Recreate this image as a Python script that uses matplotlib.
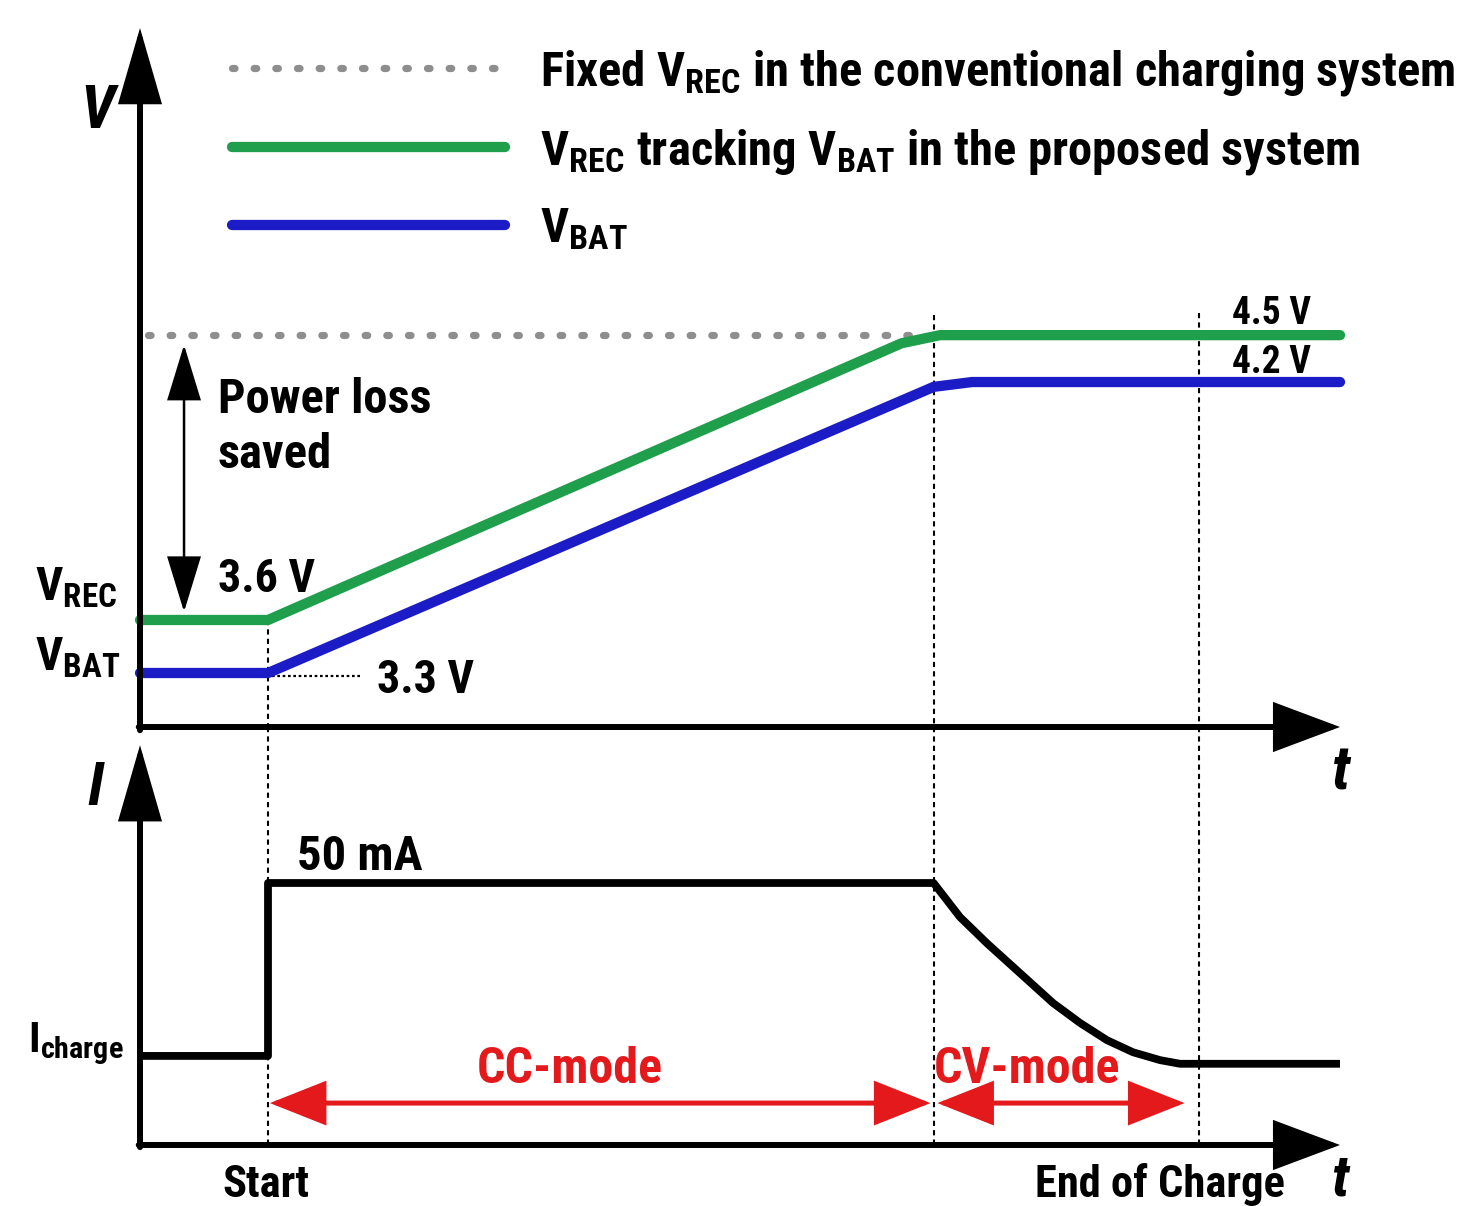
import matplotlib
matplotlib.use("Agg")
import matplotlib.pyplot as plt
from matplotlib import font_manager as fm

# ---------------- data (schematic levels) ----------------
t_start, t_cv, t_end, t_max = 1.0, 6.2, 8.27, 9.375

green_t = [0.0, 1.0, 5.95, 6.25, 9.375]            # V_REC tracking V_BAT
green_v = [3.464, 3.464, 4.32, 4.345, 4.345]
blue_t = [0.0, 1.0, 6.2, 6.5, 9.375]               # V_BAT
blue_v = [3.30, 3.30, 4.185, 4.20, 4.20]
fixed_t = [0.06, 6.12]                             # fixed V_REC (conventional)
fixed_v = [4.345, 4.345]

cur_t = [0.0, 1.0, 1.0, 6.2, 6.406, 6.617, 6.875, 7.133, 7.344, 7.555, 7.758,
         7.969, 8.125, 9.375]
cur_ma = [17.0, 17.0, 50.0, 50.0, 43.5, 38.5, 32.8, 27.1, 23.3, 20.0, 17.7,
          16.2, 15.5, 15.5]

legend_labels = [r"Fixed $\mathregular{V_{REC}}$ in the conventional charging system",
                 r"$\mathregular{V_{REC}}$ tracking $\mathregular{V_{BAT}}$ in the proposed system",
                 r"$\mathregular{V_{BAT}}$"]
value_labels = ["3.6 V", "3.3 V", "4.5 V", "4.2 V", "50 mA"]
mode_labels = ["CC-mode", "CV-mode"]
event_labels = ["Start", "End of Charge"]

# ---------------- fonts ----------------
entries = fm.fontManager.ttflist
names = {f.name for f in entries}
chosen = None
for nm in ["Liberation Sans Narrow", "Arial Narrow", "Roboto Condensed",
           "Open Sans Condensed", "Noto Sans Condensed"]:
    if nm in names:
        chosen = nm
        break
NARROW = chosen is not None
if chosen is None:
    chosen = "Liberation Sans"
FAM = [chosen, "DejaVu Sans"]
K = 1.0 if NARROW else 0.82
plt.rcParams["font.family"] = FAM
plt.rcParams["font.weight"] = "bold"

GREEN = "#1f9e4b"
BLUE = "#1c1cc6"
GRAY = "#8e8e8e"
RED = "#e3191c"

W, H = 1463, 1206
PT = 100 / 72  # px per point
fig = plt.figure(figsize=(W / 100, H / 100), dpi=100)
fig.patch.set_facecolor("white")

# top axes: t (128 px / unit), V (323.3 px / V)
V0 = 3.3 - 54 / 323.3
ax1 = fig.add_axes([140 / W, 1 - 727 / H, (W - 140) / W, 727 / H])
ax1.set_xlim(0, (W - 140) / 128)
ax1.set_ylim(V0, V0 + 727 / 323.3)
ax1.axis("off")

# bottom axes: I in mA (5.24 px / mA)
ax2 = fig.add_axes([140 / W, 1 - 1145 / H, (W - 140) / W, (1145 - 727) / H])
ax2.set_xlim(0, (W - 140) / 128)
ax2.set_ylim(0, (1145 - 727) / 5.24)
ax2.axis("off")


def arrow(ax, p0, p1, style, lw, color, hl, hw, z=5):
    ax.annotate("", xy=p1, xytext=p0, xycoords="data", textcoords="data",
                arrowprops=dict(arrowstyle=f"{style},head_length={hl},head_width={hw}",
                                lw=lw, color=color, shrinkA=0, shrinkB=0,
                                mutation_scale=1, joinstyle="miter"),
                annotation_clip=False, zorder=z)


def ftext(x, y, s, **kw):
    return fig.text(x / W, 1 - y / H, s, **kw)


# ---------------- top panel ----------------
ax1.plot(fixed_t, fixed_v, color=GRAY, lw=5.2, linestyle=(0, (0.35, 2.65)),
         dash_capstyle="round", label=legend_labels[0], clip_on=False, zorder=2)
ax1.plot(green_t, green_v, color=GREEN, lw=7.4, solid_joinstyle="round",
         solid_capstyle="round", label=legend_labels[1], clip_on=False, zorder=3)
ax1.plot(blue_t, blue_v, color=BLUE, lw=7.4, solid_joinstyle="round",
         solid_capstyle="round", label=legend_labels[2], clip_on=False, zorder=3)

# vertical dotted markers
dot = dict(color="black", lw=1.5, linestyle=(0, (2.5, 2)), clip_on=False, zorder=1)
ax1.plot([t_start, t_start], [green_v[1], V0], **dot)
ax1.plot([t_cv, t_cv], [4.407, V0], **dot)
ax1.plot([t_end, t_end], [4.413, V0], **dot)
ax2.plot([t_start, t_start], [ax2.get_ylim()[1], 0], **dot)
ax2.plot([t_cv, t_cv], [ax2.get_ylim()[1], 0], **dot)
ax2.plot([t_end, t_end], [ax2.get_ylim()[1], 0], **dot)

# 3.3 V leader
ax1.plot([1.03, 1.72], [3.29, 3.29], color="black", lw=1.6,
         linestyle=(0, (1.2, 1.2)), zorder=2)

# axes arrows
arrow(ax1, (0.0, V0 - 0.01), (0.0, 5.295), "-|>", 4.3, "black", 45, 13)
arrow(ax1, (-0.01, V0), (t_max, V0), "-|>", 4.3, "black", 40, 15)
arrow(ax2, (0.0, -0.4), (0.0, 76.3), "-|>", 4.3, "black", 45, 13)
arrow(ax2, (-0.01, 0.0), (t_max, 0.0), "-|>", 4.3, "black", 40, 15)

# power loss saved double arrow
arrow(ax1, (0.344, 3.489), (0.344, 4.315), "<|-|>", 1.8, "black", 36, 11)

# ---------------- bottom panel ----------------
ax2.plot(cur_t, cur_ma, color="black", lw=5.6, solid_joinstyle="round",
         solid_capstyle="butt", clip_on=False, zorder=3)
arrow(ax2, (t_start + 0.015, 8.0), (t_cv - 0.025, 8.0), "<|-|>", 3.6, RED, 34, 13.5)
arrow(ax2, (t_cv + 0.03, 8.0), (8.16, 8.0), "<|-|>", 3.6, RED, 34, 13.5)

# ---------------- legend (fitted to the reference extents) ----------------
def make_legend(fs, ls):
    fs_px = fs * PT
    return ax1.legend(loc="upper left", bbox_to_anchor=(232 / W, 1 - 30 / H),
                      bbox_transform=fig.transFigure, frameon=False,
                      fontsize=fs, handlelength=273 / fs_px,
                      handletextpad=35 / fs_px, labelspacing=ls,
                      borderpad=0, borderaxespad=0)

fs, ls = 30.0, 0.5
leg = make_legend(fs, ls)
fig.canvas.draw()
r = fig.canvas.get_renderer()
w0 = leg.get_texts()[0].get_window_extent(r).width
fs = fs * 915 / w0
leg = make_legend(fs, ls)
fig.canvas.draw()
hs = leg.legend_handles
ys = [H - 0.5 * (h.get_window_extent(r).y0 + h.get_window_extent(r).y1) for h in hs]
ls = ls + (157 - (ys[2] - ys[0])) / (2 * fs * PT)
leg = make_legend(fs, ls)
fig.canvas.draw()
y0 = H - 0.5 * (leg.legend_handles[0].get_window_extent(r).y0 +
                leg.legend_handles[0].get_window_extent(r).y1)
leg.set_bbox_to_anchor((232 / W, 1 - (30 + 68 - y0) / H), transform=fig.transFigure)

# ---------------- texts ----------------
ftext(97, 128, "V", fontsize=44, style="italic", ha="center", va="baseline")
ftext(1341, 790, "t", fontsize=44, style="italic", ha="center", va="baseline")
ftext(95, 805, "I", fontsize=44, style="italic", ha="center", va="baseline")
ftext(1340, 1195, "t", fontsize=42, style="italic", ha="center", va="baseline")

ftext(218, 413, "Power loss", fontsize=35 * K, ha="left", va="baseline")
ftext(218, 468, "saved", fontsize=35 * K, ha="left", va="baseline")
ftext(218, 592, value_labels[0], fontsize=33 * K, ha="left", va="baseline")
ftext(377, 693, value_labels[1], fontsize=33 * K, ha="left", va="baseline")
ftext(35, 600, r"$\mathregular{V_{REC}}$", fontsize=34 * K, ha="left", va="baseline")
ftext(35, 670, r"$\mathregular{V_{BAT}}$", fontsize=34 * K, ha="left", va="baseline")
ftext(1232, 324, value_labels[2], fontsize=27 * K, ha="left", va="baseline")
ftext(1232, 373, value_labels[3], fontsize=27 * K, ha="left", va="baseline")
ftext(297, 870, value_labels[4], fontsize=35 * K, ha="left", va="baseline")
ftext(28, 1052, r"$\mathregular{I_{charge}}$", fontsize=31 * K, ha="left", va="baseline")
ftext(570, 1083, mode_labels[0], fontsize=36 * K, color=RED, ha="center", va="baseline")
ftext(1027, 1083, mode_labels[1], fontsize=36 * K, color=RED, ha="center", va="baseline")
ftext(266, 1197, event_labels[0], fontsize=32 * K, ha="center", va="baseline")
ftext(1160, 1197, event_labels[1], fontsize=32 * K, ha="center", va="baseline")

fig.savefig("out.png", dpi=100, facecolor="white")
